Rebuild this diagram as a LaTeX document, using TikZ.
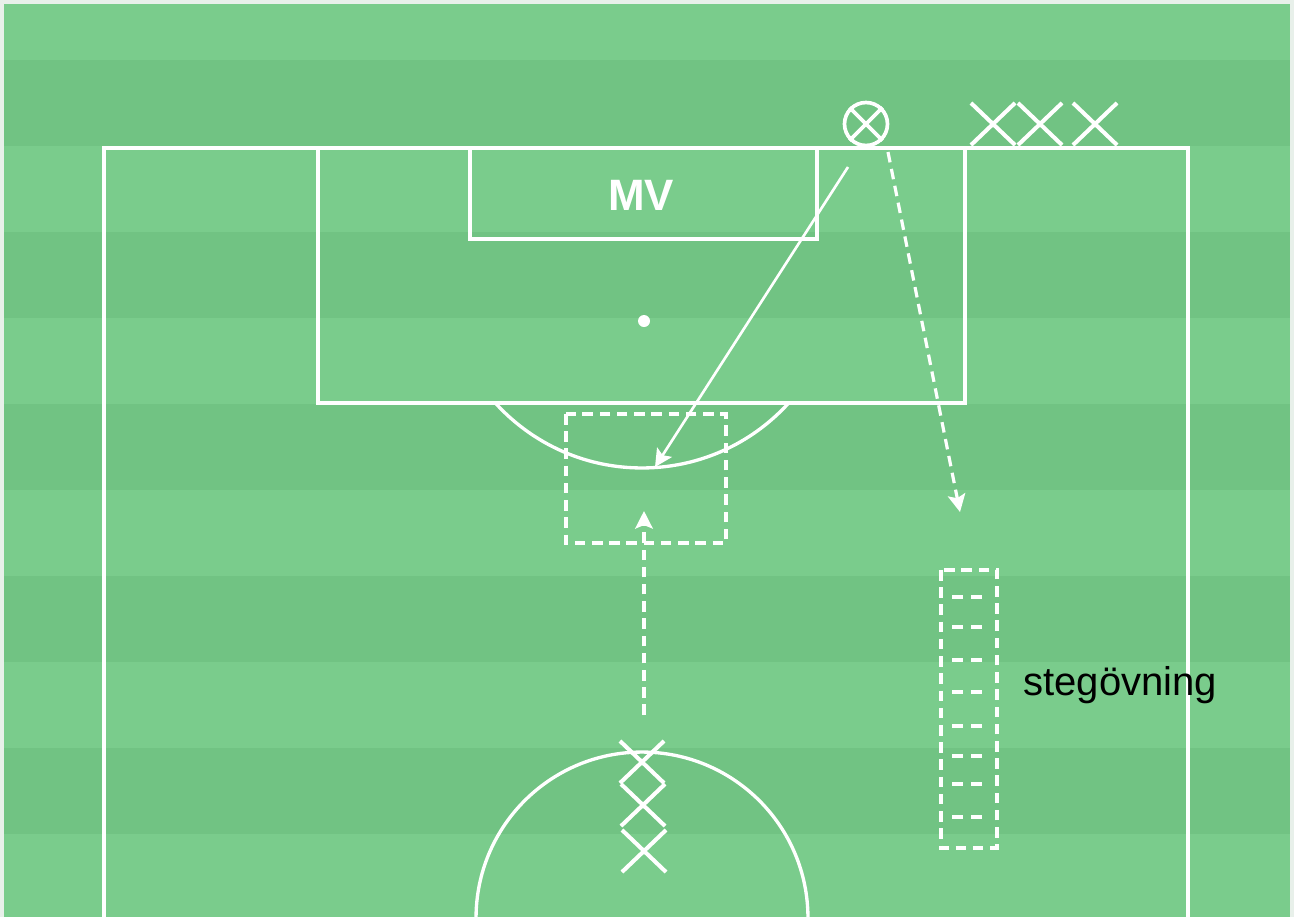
\documentclass[tikz,border=0pt]{standalone}
\usepackage{fontspec}
\setmainfont{Liberation Sans}
\usetikzlibrary{arrows.meta,shapes.misc}

\definecolor{grasLjus}{RGB}{122,204,140}
\definecolor{grasMork}{RGB}{113,195,131}
\definecolor{kant}{RGB}{232,240,234}

\tikzset{
  linje/.style={white, line width=1.9pt},
  streck/.style={white, line width=1.8pt, dash pattern=on 6pt off 3.8pt},
  pinne/.style={white, line width=1.8pt, dash pattern=on 6pt off 5pt},
  pil/.style={-{Stealth[length=10pt,width=10pt,inset=2pt]}},
  spelare/.style={draw=white, line width=2.3pt, cross out, minimum width=0.8cm, minimum height=0.76cm, inner sep=0pt},
  malvakt/.style={draw=white, line width=2.1pt, circle, minimum size=0.86cm, inner sep=0pt}
}

\begin{document}
\begin{tikzpicture}[x=0.02cm,y=-0.02cm]
\useasboundingbox (0,0) rectangle (1294,917);
% gräsmattan
\fill[kant] (0,0) rectangle (1294,917);
\fill[grasLjus] (4,4) rectangle (1290,917);
\foreach \y in {60,232,404,576,748}
  \fill[grasMork] (4,\y) rectangle (1290,\y+86);

% planens linjer
\draw[linje] (104,917) |- (1188,148) -- (1188,917);
\draw[linje] (318,148) rectangle (965,403);
\draw[linje] (470,148) rectangle (817,239);
\fill[white] (644,321) circle[radius=0.12cm];
\begin{scope}
  \clip (318,403) rectangle (965,917);
  \draw[linje] (642,270) circle[radius=3.96cm];
\end{scope}
\begin{scope}
  \clip (4,4) rectangle (1290,917);
  \draw[linje] (642,918) circle[radius=3.32cm];
\end{scope}

\node[text=white, font=\fontsize{25}{30}\selectfont\bfseries] (mv) at (641,195) {MV};

% spelare
\node[malvakt] (k) at (866,124) {};
\draw[linje, line width=2.1pt] (k.north east) -- (k.south west) (k.north west) -- (k.south east);
\node[spelare] (kA) at (993,124) {};
\node[spelare] (kB) at (1040,124) {};
\node[spelare] (kC) at (1095,124) {};
\node[spelare] (sA) at (642,762) {};
\node[spelare] (sB) at (643,805) {};
\node[spelare] (sC) at (644,851) {};

% zon och stege
\draw[streck] (566,414) rectangle (726,543);
\draw[streck] (941,570) rectangle (997,848);
\foreach \y in {597,627,660,692,726,756,784,817}
  \draw[pinne] (952,\y) -- (983,\y);
\node[anchor=base west, inner sep=0pt, font=\fontsize{22.8}{27}\selectfont] (steg) at (1023,695) {stegövning};

% pilar
\coordinate (pA) at (848,167);
\coordinate (pB) at (655,467);
\draw[linje, line width=1.5pt, pil] (pA) -- (pB);
\coordinate (lA) at (888,152);
\coordinate (lB) at (960,512);
\draw[streck, pil] (lA) -- (lB);
\coordinate (uA) at (644,715);
\coordinate (uB) at (644,511);
\draw[streck, pil] (uA) -- (uB);
\end{tikzpicture}
\end{document}
